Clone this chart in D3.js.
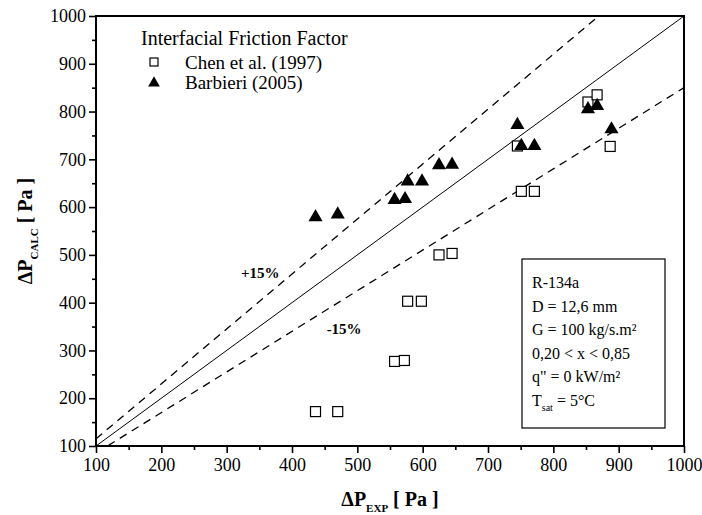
<!DOCTYPE html>
<html>
<head>
<meta charset="utf-8">
<script src="https://cdn.jsdelivr.net/npm/d3@7"></script>
<style>
  body { margin: 0; background: #fff; }
  svg, svg text { font-family: "Liberation Serif", "Times New Roman", serif; }
</style>
</head>
<body>
<svg id="chart" width="702" height="515"></svg>
<script>
// data
var expChen = [436, 470, 557, 572, 577, 598, 625, 645, 745, 751, 771, 853, 867, 887];
var calcChen = [172, 172, 277, 279, 403, 403, 500, 503, 728, 633, 633, 820, 835, 727];
var expBarb = [436, 470, 557, 573, 577, 599, 625, 645, 745, 751, 771, 853, 867, 889];
var calcBarb = [581, 587, 617, 619, 656, 656, 690, 691, 774, 730, 730, 807, 814, 765];
var majorTicks = [100, 200, 300, 400, 500, 600, 700, 800, 900, 1000];
var minorTicks = [150, 250, 350, 450, 550, 650, 750, 850, 950];
var bandFactors = [1, 1.15, 0.85];
var infoLines = ["R-134a", "D = 12,6 mm", "G = 100 kg/s.m\u00b2", "0,20 < x < 0,85", "q\" = 0 kW/m\u00b2"];

var margin = { top: 16, left: 96, right: 18, bottom: 69 },
    width = 702 - margin.left - margin.right,
    height = 515 - margin.top - margin.bottom

var x = d3.scaleLinear().domain([100, 1000]).range([0, width])
var y = d3.scaleLinear().domain([100, 1000]).range([height, 0])

var svg = d3.select('#chart')
var g = svg.append('g').attr('transform', 'translate(' + margin.left + ',' + margin.top + ')')

g.append('clipPath').attr('id', 'clip')
    .append('rect').attr('width', width).attr('height', height)

// axes
var fmt = d3.format('d')
g.append('g')
    .call(d3.axisLeft(y).tickValues(majorTicks).tickSize(7).tickPadding(3).tickFormat(fmt))
g.append('g')
    .call(d3.axisLeft(y).tickValues(minorTicks).tickSize(4).tickFormat(''))
g.append('g').attr('transform', 'translate(0,' + height + ')')
    .call(d3.axisBottom(x).tickValues(majorTicks).tickSize(7).tickPadding(5).tickFormat(fmt))
g.append('g').attr('transform', 'translate(0,' + height + ')')
    .call(d3.axisBottom(x).tickValues(minorTicks).tickSize(4).tickFormat(''))

g.selectAll('.domain').remove()
g.selectAll('g').attr('font-family', null).attr('font-size', null)
g.selectAll('.tick line').attr('stroke', '#000').attr('stroke-width', 1.6)
g.selectAll('.tick text')
    .style('font-size', '18px')
    .attr('fill', '#000')

// frame
g.append('rect')
    .attr('width', width).attr('height', height)
    .attr('fill', 'none').attr('stroke', '#000').attr('stroke-width', 2)

// reference lines
var line = d3.line().x(d => x(d[0])).y(d => y(d[1]))
g.append('g').attr('clip-path', 'url(#clip)')
    .selectAll('path').data(bandFactors).enter()
    .append('path')
    .attr('d', f => line([[100, 100 * f], [1000, 1000 * f]]))
    .attr('fill', 'none').attr('stroke', '#000')
    .attr('stroke-width', f => f === 1 ? 1 : 1.3)
    .attr('stroke-dasharray', f => f === 1 ? null : '8,6')

g.append('text').attr('x', x(322)).attr('y', y(452))
    .style('font-size', '15px').style('font-weight', 'bold').text('+15%')
g.append('text').attr('x', x(453)).attr('y', y(335))
    .style('font-size', '15px').style('font-weight', 'bold').text('-15%')

// markers
var chen = d3.zip(expChen, calcChen)
var barb = d3.zip(expBarb, calcBarb)
var tri = d3.symbol().type(d3.symbolTriangle).size(86)

g.selectAll('.chen').data(chen).enter().append('rect')
    .attr('class', 'chen')
    .attr('x', d => x(d[0]) - 5).attr('y', d => y(d[1]) - 5)
    .attr('width', 10).attr('height', 10)
    .attr('fill', '#fff').attr('stroke', '#000').attr('stroke-width', 1.2)

g.selectAll('.barb').data(barb).enter().append('path')
    .attr('class', 'barb')
    .attr('transform', d => 'translate(' + x(d[0]) + ',' + (y(d[1]) + 1) + ')')
    .attr('d', tri).attr('fill', '#000')

// legend
var leg = svg.append('g')
leg.append('text').attr('x', 141).attr('y', 45).style('font-size', '20px').text('Interfacial Friction Factor')
leg.append('rect').attr('x', 150).attr('y', 58).attr('width', 8).attr('height', 8)
    .attr('fill', '#fff').attr('stroke', '#000').attr('stroke-width', 1.2)
leg.append('text').attr('x', 185).attr('y', 69).style('font-size', '19px').text('Chen et al. (1997)')
leg.append('path').attr('transform', 'translate(154,83)').attr('d', d3.symbol().type(d3.symbolTriangle).size(60)).attr('fill', '#000')
leg.append('text').attr('x', 185).attr('y', 89).style('font-size', '19px').text('Barbieri (2005)')

// info box
var info = svg.append('g')
info.append('rect').attr('x', 522).attr('y', 259).attr('width', 143).attr('height', 169)
    .attr('fill', '#fff').attr('stroke', '#000').attr('stroke-width', 1.2)
info.selectAll('.info').data(infoLines).enter().append('text')
    .attr('x', 532).attr('y', (d, i) => 288 + i * 23.6)
    .style('font-size', '16px').text(d => d)
var tl = info.append('text').attr('x', 532).attr('y', 288 + 5 * 23.6).style('font-size', '16px')
tl.append('tspan').text('T')
tl.append('tspan').attr('dy', 5).style('font-size', '10px').text('sat')
tl.append('tspan').attr('dy', -5).text(' = 5\u00b0C')

// axis titles
var xt = svg.append('text').attr('x', margin.left + width / 2).attr('y', 506)
    .attr('text-anchor', 'middle').style('font-size', '20px').style('font-weight', 'bold')
xt.append('tspan').text('\u0394P')
xt.append('tspan').attr('dy', 6).style('font-size', '11px').text('EXP')
xt.append('tspan').attr('dy', -6).text('  [ Pa ]')

var yt = svg.append('text')
    .attr('transform', 'translate(32,' + (margin.top + height / 2) + ') rotate(-90)')
    .attr('text-anchor', 'middle').style('font-size', '20px').style('font-weight', 'bold')
yt.append('tspan').text('\u0394P')
yt.append('tspan').attr('dy', 6).style('font-size', '11px').text('CALC')
yt.append('tspan').attr('dy', -6).text('  [ Pa ]')
</script>
</body>
</html>
